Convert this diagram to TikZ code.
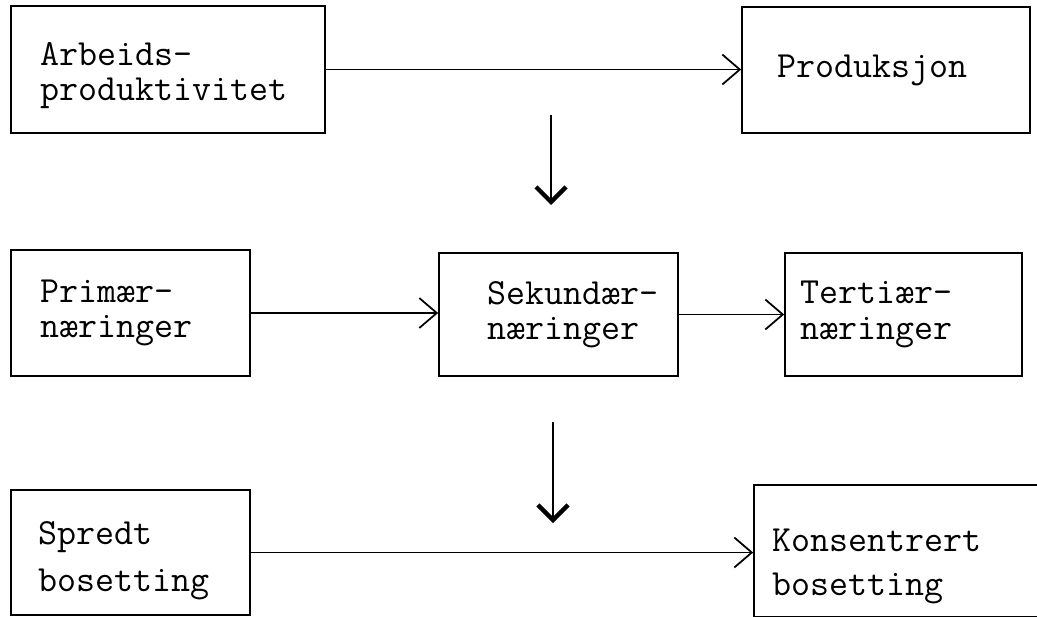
\documentclass[tikz,border=0pt]{standalone}
\usepackage{fontspec}
\usetikzlibrary{arrows.meta}

\begin{document}
\begin{tikzpicture}[x=0.02cm,y=-0.02cm,
  boks/.style={draw,line width=1pt,align=left,inner ysep=2pt,font=\ttfamily\fontsize{21}{20}\selectfont},
  pil/.style={line width=1pt,-{Straight Barb[length=0.35cm,width=0.6cm]}},
  nedpil/.style={line width=1pt,-{Straight Barb[length=0.3cm,width=0.6cm,line width=2.5pt]}}]
\useasboundingbox (0,0) rectangle (1037,616);

\node[boks,inner xsep=0.58cm,text width=5.12cm,minimum height=2.54cm] (arb) at (168,69.5) {\rule{0pt}{20pt}Arbeids-\\produktivitet};
\node[boks,inner xsep=0.70cm,text width=4.36cm,minimum height=2.52cm] (prod) at (886,70) {Produksjon};

\node[boks,inner xsep=0.58cm,text width=3.62cm,minimum height=2.52cm] (prim) at (130.5,313) {Primær-\\næringer};
\node[boks,inner xsep=0.96cm,text width=2.86cm,minimum height=2.46cm] (sek) at (558.5,314.5) {Sekundær-\\næringer};
\node[boks,inner xsep=0.30cm,text width=4.14cm,minimum height=2.46cm] (ter) at (903.5,314.5) {Tertiær-\\næringer};

\node[boks,inner xsep=0.36cm,text width=3.70cm,minimum height=2.5cm,inner xsep=0.54cm] (spr) at (130.5,552.5) {\rule{0pt}{22pt}Spredt\\[0.24cm]bosetting};
\node[boks,inner xsep=0.36cm,text width=5.4cm,minimum height=2.63cm] (kons) at (907,550.75) {\rule{0pt}{31pt}Konsentrert\\[0.18cm]bosetting};

\draw[pil] (arb.east) -- (arb.east -| prod.west);
\draw[pil] (prim.east) -- (prim.east -| sek.west);
\draw[pil] (sek.east) -- (sek.east -| ter.west);
\draw[pil] (spr.east) -- (spr.east -| kons.west);

% loddrette piler
\coordinate (n1) at (551,115);
\coordinate (n2) at (551,205);
\coordinate (n3) at (553,422);
\coordinate (n4) at (553,523);
\draw[nedpil] (n1) -- (n2);
\draw[nedpil] (n3) -- (n4);
\end{tikzpicture}
\end{document}
